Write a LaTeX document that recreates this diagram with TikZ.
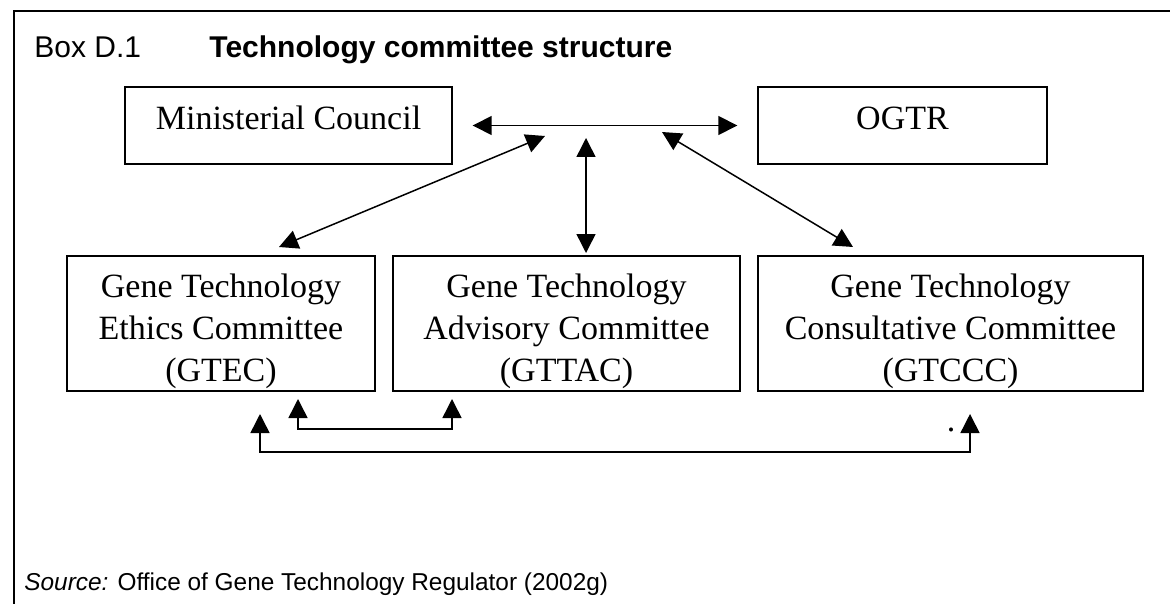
\documentclass[tikz,border=0pt]{standalone}
\usepackage{fontspec}
\setmainfont{Liberation Serif}
\setsansfont{Liberation Sans}
\usetikzlibrary{calc,arrows.meta}

\tikzset{
  cbox/.style={draw, line width=0.7pt, inner sep=0pt, align=center,
    font=\fontsize{17}{21}\selectfont},
  topbox/.style={cbox, minimum height=38.5pt, text height=12pt, text depth=7.5pt},
  lowbox/.style={cbox, minimum height=67.5pt, text height=57.5pt, text depth=0pt},
  link/.style={line width=0.75pt,
    {Triangle[length=9.5pt,width=9.5pt]}-{Triangle[length=9.5pt,width=9.5pt]}},
}

\begin{document}
\begin{tikzpicture}[x=0.5pt,y=-0.5pt]
  \useasboundingbox (0,0) rectangle (1170,604);
  %% frame and captions
  \draw[line width=1.1pt] (1170,11) -- (14,11) -- (14,604);
  \node[anchor=base west, inner sep=0pt, font=\sffamily\fontsize{15}{18}\selectfont] (boxno) at (34,58) {Box D.1};
  \node[anchor=base west, inner sep=0pt, font=\sffamily\bfseries\fontsize{15}{18}\selectfont] (title) at (209,58) {Technology committee structure};
  \node[anchor=base west, inner sep=0pt, font=\sffamily\fontsize{12.2}{14}\selectfont] (src) at (24,590) {\textit{Source:} Office of Gene Technology Regulator (2002g)};

  %% top row
  \node[topbox, minimum width=163.5pt] (mc) at (288.5,125.5) {Ministerial Council};
  \node[topbox, minimum width=144.5pt] (ogtr) at (902.5,125.5) {OGTR};

  %% committees
  \node[lowbox, minimum width=154pt] (gtec) at (221,323.5) {Gene Technology\\Ethics Committee\\(GTEC)};
  \node[lowbox, minimum width=173.5pt] (gttac) at (566.5,323.5) {Gene Technology\\Advisory Committee\\(GTTAC)};
  \node[lowbox, minimum width=192.5pt] (gtccc) at (950.5,323.5) {Gene Technology\\Consultative Committee\\(GTCCC)};

  %% arrow ends
  \coordinate (hubL) at (545,136);
  \coordinate (hubM) at (586,138);
  \coordinate (hubR) at (662,132);
  \coordinate (ecTop) at (279,247);
  \coordinate (acTop) at (586,253);
  \coordinate (ccTop) at (853,247);
  \coordinate (ecLow) at (298,399);
  \coordinate (acLow) at (452,399);
  \coordinate (ecFar) at (260,414);
  \coordinate (ccLow) at (970,414);

  \draw[link, shorten <=10pt, shorten >=10pt] (mc.east) -- (ogtr.west);
  \draw[link] (ecTop) -- (hubL);
  \draw[link] (acTop) -- (hubM);
  \draw[link] (ccTop) -- (hubR);
  \draw[link] (ecLow) -- ++(0,30) -| (acLow);
  \draw[link] (ecFar) -- ++(0,38) -| (ccLow);

  \node[inner sep=0pt, font=\fontsize{17}{21}\selectfont] (dot) at (951,430) {.};
\end{tikzpicture}
\end{document}
